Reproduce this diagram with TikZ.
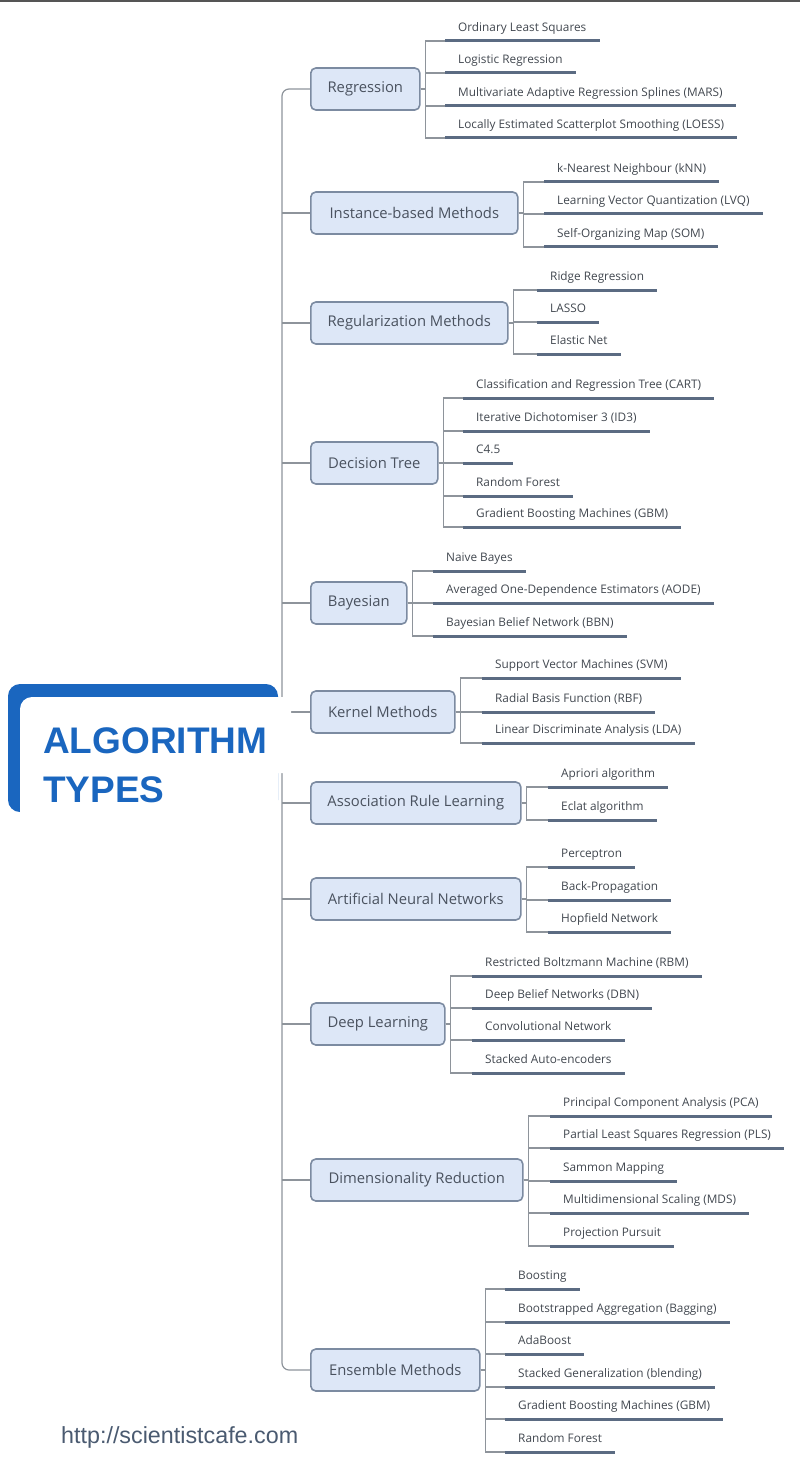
\documentclass[tikz,border=0pt]{standalone}
\usepackage{fontspec}
\setmainfont{Open Sans}
\newfontfamily\titlefont{Liberation Sans}
\definecolor{connc}{HTML}{8E949B}
\definecolor{ulc}{HTML}{5B6B82}
\definecolor{catd}{HTML}{7C8BA1}
\definecolor{catf}{HTML}{DDE7F7}
\definecolor{catt}{HTML}{4A525F}
\definecolor{leaft}{HTML}{41474F}
\definecolor{titleblue}{HTML}{1A66BF}
\definecolor{urlc}{HTML}{4A5A70}
\definecolor{topbar}{HTML}{555555}
% category box -> its leaves: bracket connector plus underline of each leaf
\newcommand\branch[2]{%
  \foreach \l in {#2}{%
    \draw[conn] (#1.east) -- ++(5,0) |- (\l.south west);
    \draw[uline] (\l.south west) -- (\l.south east);
  }}
\begin{document}
\begin{tikzpicture}[x=1pt,y=-1pt,
  conn/.style={draw=connc, line width=1.2pt},
  uline/.style={draw=ulc, line width=3pt},
  cat/.style={draw=catd, fill=catf, line width=1.6pt, rounded corners=5pt,
    minimum height=42pt, inner sep=0pt, anchor=west,
    font=\fontsize{14.8}{16}\selectfont, text=catt},
  leaf/.style={anchor=south west, inner xsep=13pt, inner ysep=9pt,
    text depth=0pt, font=\fontsize{11.8}{13}\selectfont, text=leaft},
  title/.style={anchor=north west, inner sep=0pt, align=left,
    font=\titlefont\bfseries\fontsize{37}{49}\selectfont, text=titleblue},
]
\useasboundingbox (0,0) rectangle (800,1463);
\fill[topbar] (0,0) rectangle (800,2.5);

% categories
\node[cat, minimum width=109pt] (reg)  at (310,89)   {Regression};
\node[cat, minimum width=207pt] (inst) at (310,213)  {Instance-based Methods};
\node[cat, minimum width=197pt] (regu) at (310,323)  {Regularization Methods};
\node[cat, minimum width=127pt] (dt)   at (310,463)  {Decision Tree};
\node[cat, minimum width=96pt]  (bay)  at (310,603)  {Bayesian};
\node[cat, minimum width=144pt] (ker)  at (310,712)  {Kernel Methods};
\node[cat, minimum width=210pt] (arl)  at (310,803)  {Association Rule Learning};
\node[cat, minimum width=210pt] (ann)  at (310,899)  {Artificial Neural Networks};
\node[cat, minimum width=134pt] (dl)   at (310,1024) {Deep Learning};
\node[cat, minimum width=212pt] (dim)  at (310,1180) {Dimensionality Reduction};
\node[cat, minimum width=169pt] (ens)  at (310,1370) {Ensemble Methods};

% leaves
\node[leaf] (reg1) at (445,41)  {Ordinary Least Squares};
\node[leaf] (reg2) at (445,73)  {Logistic Regression};
\node[leaf] (reg3) at (445,106) {Multivariate Adaptive Regression Splines (MARS)};
\node[leaf] (reg4) at (445,138) {Locally Estimated Scatterplot Smoothing (LOESS)};

\node[leaf] (inst1) at (544,182) {k-Nearest Neighbour (kNN)};
\node[leaf] (inst2) at (544,214) {Learning Vector Quantization (LVQ)};
\node[leaf] (inst3) at (544,247) {Self-Organizing Map (SOM)};

\node[leaf] (regu1) at (537,290) {Ridge Regression};
\node[leaf] (regu2) at (537,322) {LASSO};
\node[leaf] (regu3) at (537,354) {Elastic Net};

\node[leaf] (dt1) at (463,398) {Classification and Regression Tree (CART)};
\node[leaf] (dt2) at (463,431) {Iterative Dichotomiser 3 (ID3)};
\node[leaf] (dt3) at (463,463) {C4.5};
\node[leaf] (dt4) at (463,496) {Random Forest};
\node[leaf] (dt5) at (463,527) {Gradient Boosting Machines (GBM)};

\node[leaf] (bay1) at (433,571) {Naive Bayes};
\node[leaf] (bay2) at (433,603) {Averaged One-Dependence Estimators (AODE)};
\node[leaf] (bay3) at (433,636) {Bayesian Belief Network (BBN)};

\node[leaf] (ker1) at (482,678) {Support Vector Machines (SVM)};
\node[leaf] (ker2) at (482,712) {Radial Basis Function (RBF)};
\node[leaf] (ker3) at (482,743) {Linear Discriminate Analysis (LDA)};

\node[leaf] (arl1) at (548,787) {Apriori algorithm};
\node[leaf] (arl2) at (548,820) {Eclat algorithm};

\node[leaf] (ann1) at (548,867) {Perceptron};
\node[leaf] (ann2) at (548,900) {Back-Propagation};
\node[leaf] (ann3) at (548,932) {Hopfield Network};

\node[leaf] (dl1) at (472,976)  {Restricted Boltzmann Machine (RBM)};
\node[leaf] (dl2) at (472,1008) {Deep Belief Networks (DBN)};
\node[leaf] (dl3) at (472,1040) {Convolutional Network};
\node[leaf] (dl4) at (472,1073) {Stacked Auto-encoders};

\node[leaf] (dim1) at (550,1116) {Principal Component Analysis (PCA)};
\node[leaf] (dim2) at (550,1148) {Partial Least Squares Regression (PLS)};
\node[leaf] (dim3) at (550,1181) {Sammon Mapping};
\node[leaf] (dim4) at (550,1213) {Multidimensional Scaling (MDS)};
\node[leaf] (dim5) at (550,1246) {Projection Pursuit};

\node[leaf] (ens1) at (505,1289) {Boosting};
\node[leaf] (ens2) at (505,1322) {Bootstrapped Aggregation (Bagging)};
\node[leaf] (ens3) at (505,1354) {AdaBoost};
\node[leaf] (ens4) at (505,1387) {Stacked Generalization (blending)};
\node[leaf] (ens5) at (505,1419) {Gradient Boosting Machines (GBM)};
\node[leaf] (ens6) at (505,1452) {Random Forest};

% brackets from each category to its leaves
\branch{reg}{reg1,reg2,reg3,reg4}
\branch{inst}{inst1,inst2,inst3}
\branch{regu}{regu1,regu2,regu3}
\branch{dt}{dt1,dt2,dt3,dt4,dt5}
\branch{bay}{bay1,bay2,bay3}
\branch{ker}{ker1,ker2,ker3}
\branch{arl}{arl1,arl2}
\branch{ann}{ann1,ann2,ann3}
\branch{dl}{dl1,dl2,dl3,dl4}
\branch{dim}{dim1,dim2,dim3,dim4,dim5}
\branch{ens}{ens1,ens2,ens3,ens4,ens5,ens6}

% trunk joining all categories
\coordinate (tk) at (282,700);
\draw[conn, rounded corners=7pt] (reg.west) -| (tk) |- (ens.west);
\foreach \c in {inst,regu,dt,bay,ker,arl,ann,dl,dim}
  \draw[conn] (\c.west -| tk) -- (\c.west);

% root label with its blue corner frame
\fill[titleblue, rounded corners=12pt] (8,684) rectangle (278,812);
\fill[white] (278,813) -- (20,813) [rounded corners=12pt] -- (20,697)
  [sharp corners] -- (291,697) -- (291,773) -- (278,773) -- cycle;
\node[title] (root) at (43,727) {ALGORITHM\\TYPES};

\node[anchor=base west, inner sep=0pt, font=\titlefont\fontsize{23.3}{26}\selectfont,
  text=urlc] (url) at (61,1443) {http://scientistcafe.com};
\end{tikzpicture}
\end{document}
